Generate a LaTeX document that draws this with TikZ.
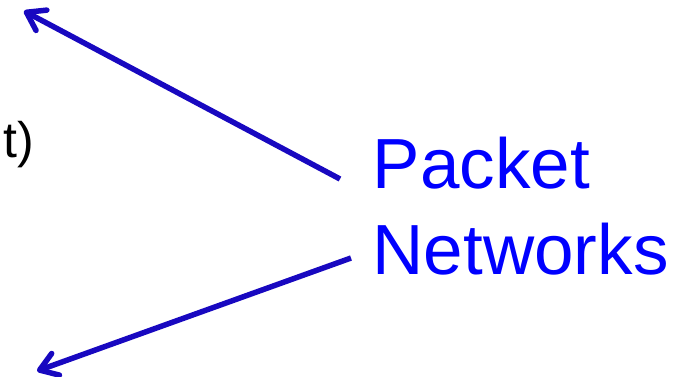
\documentclass[tikz,border=0pt]{standalone}
\usepackage{fontspec}
\setmainfont{Liberation Sans}
\usetikzlibrary{arrows.meta}
\definecolor{arrowblue}{RGB}{24,8,192}
\definecolor{textblue}{RGB}{0,0,255}
\tikzset{
  pointer/.style={draw=arrowblue, line width=5.5pt,
    -{Straight Barb[length=17pt,width=23pt,line width=5.5pt,round]}},
  bigtext/.style={inner sep=0pt, anchor=base west, text=textblue,
    font=\fontsize{71}{86}\selectfont},
  sidetext/.style={inner sep=0pt, anchor=base east, text=black,
    font=\fontsize{50}{60}\selectfont}
}
\begin{document}
\begin{tikzpicture}[x=1pt,y=-1pt]
  \useasboundingbox (0,0) rectangle (674,377);
  \node[sidetext] (side) at (34,157) {t)};
  \node[bigtext] (pkt) at (372.5,188) {Packet};
  \node[bigtext] (net) at (372.5,274) {Networks};
  \coordinate (s1) at (340,179);
  \coordinate (s2) at (351,258);
  \coordinate (t1) at (24,11);
  \coordinate (t2) at (37,371);
  \draw[pointer] (s1) -- (t1);
  \draw[pointer] (s2) -- (t2);
\end{tikzpicture}
\end{document}
